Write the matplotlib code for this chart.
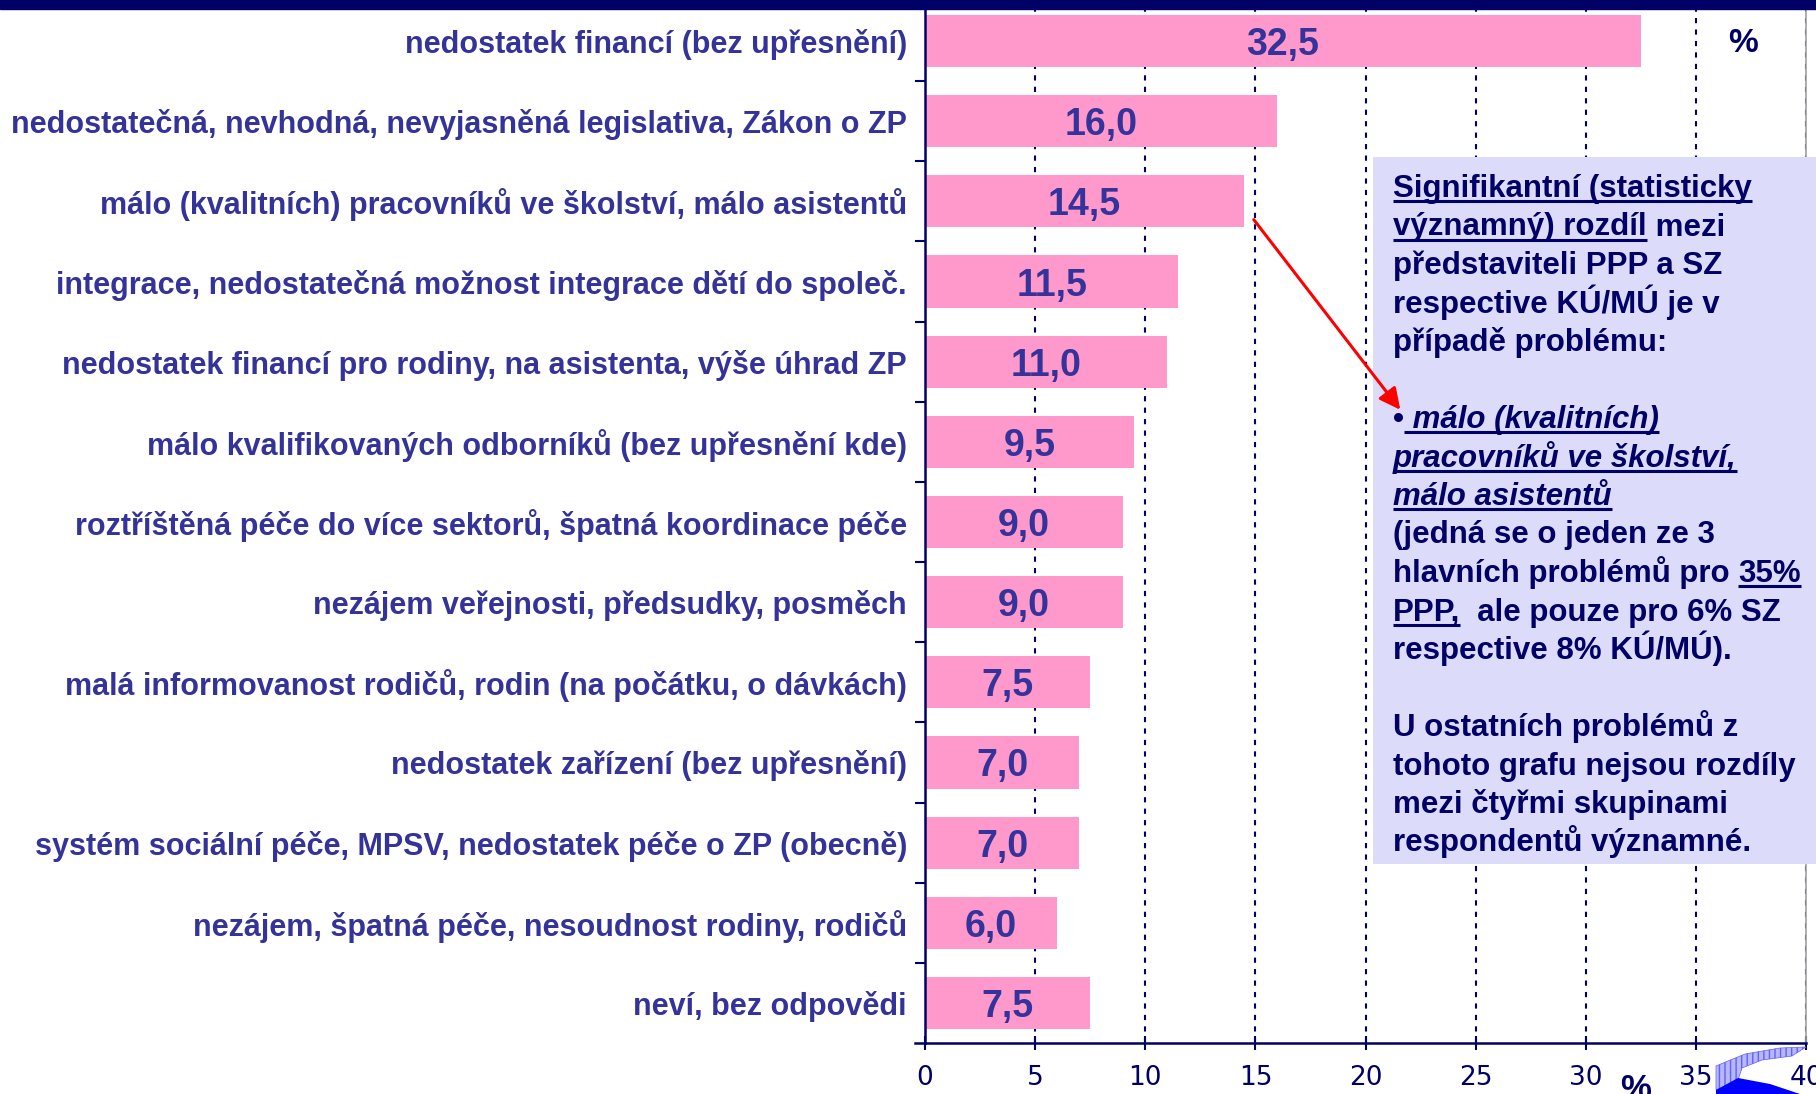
import matplotlib
matplotlib.use("Agg")
import numpy as np
import matplotlib.pyplot as plt
from matplotlib.patches import Rectangle, Polygon, FancyArrowPatch
from matplotlib.transforms import Affine2D

plt.rcParams["font.family"] = ["Liberation Sans", "DejaVu Sans"]

categories = [
    "nedostatek financí (bez upřesnění)",
    "nedostatečná, nevhodná, nevyjasněná legislativa, Zákon o ZP",
    "málo (kvalitních) pracovníků ve školství, málo asistentů",
    "integrace, nedostatečná možnost integrace dětí do společ.",
    "nedostatek financí pro rodiny, na asistenta, výše úhrad ZP",
    "málo kvalifikovaných odborníků (bez upřesnění kde)",
    "roztříštěná péče do více sektorů, špatná koordinace péče",
    "nezájem veřejnosti, předsudky, posměch",
    "malá informovanost rodičů, rodin (na počátku, o dávkách)",
    "nedostatek zařízení (bez upřesnění)",
    "systém sociální péče, MPSV, nedostatek péče o ZP (obecně)",
    "nezájem, špatná péče, nesoudnost rodiny, rodičů",
    "neví, bez odpovědi",
]
values = [32.5, 16.0, 14.5, 11.5, 11.0, 9.5, 9.0, 9.0, 7.5, 7.0, 7.0, 6.0, 7.5]
x_ticks = [0, 5, 10, 15, 20, 25, 30, 35, 40]
highlight = 2  # the category the note box points at

# note box lines: list of segments (text, italic, underlined)
note_lines = [
    [("Signifikantní (statisticky", False, True)],
    [("významný) rozdíl", False, True), (" mezi", False, False)],
    [("představiteli PPP a SZ", False, False)],
    [("respective KÚ/MÚ je v", False, False)],
    [("případě problému:", False, False)],
    [],
    [("•", False, False), (" málo (kvalitních)", True, True)],
    [("pracovníků ve školství,", True, True)],
    [("málo asistentů", True, True)],
    [("(jedná se o jeden ze 3", False, False)],
    [("hlavních problémů pro ", False, False), ("35%", False, True)],
    [("PPP,", False, True), ("  ale pouze pro 6% SZ", False, False)],
    [("respective 8% KÚ/MÚ).", False, False)],
    [],
    [("U ostatních problémů z", False, False)],
    [("tohoto grafu nejsou rozdíly", False, False)],
    [("mezi čtyřmi skupinami", False, False)],
    [("respondentů významné.", False, False)],
]

NAVY = "#000066"
LABEL = "#333399"
PINK = "#FF99CC"
BOX = "#DCDBFA"

W, H = 1816, 1094
fig = plt.figure(figsize=(W / 100, H / 100), dpi=100)
ax = fig.add_axes([925 / W, 1 - 1043 / H, 881 / W, 1042 / H])
# pixel coords measured from the top-left corner of the picture
px = Affine2D().scale(1 / W, -1 / H).translate(0, 1) + fig.transFigure

y = np.arange(len(categories))
ax.barh(y, values, height=0.65, color=PINK, zorder=2)
for i, v in enumerate(values):
    ax.text(v / 2, i, f"{v:.1f}".replace(".", ","), ha="center", va="center_baseline",
            fontsize=27, fontweight="bold", color=LABEL, zorder=3)

ax.set_xlim(0, 40)
ax.set_ylim(len(categories) - 0.5, -0.5)
ax.set_xticks(x_ticks)
ax.set_xticklabels([str(t) for t in x_ticks], family="DejaVu Sans", fontsize=19)
ax.tick_params(axis="x", direction="inout", length=10, width=1.5, color=NAVY,
               labelcolor=NAVY, pad=11)
ax.set_yticks(np.arange(0.5, len(categories) - 1, 1))
ax.set_yticklabels([])
ax.set_yticks(y, minor=True)
ax.set_yticklabels(categories, minor=True, fontsize=22, fontweight="bold", color=LABEL)
ax.tick_params(axis="y", which="major", direction="out", length=7, width=1.5, color=NAVY)
ax.tick_params(axis="y", which="minor", length=0, pad=13)

ax.set_axisbelow(True)
ax.grid(axis="x", color=NAVY, linestyle=(0, (2.5, 3)), linewidth=1.5)
ax.spines["top"].set_visible(False)
ax.spines["right"].set_color("#A0A0A0")
ax.spines["right"].set_linewidth(1.2)
for s in ("left", "bottom"):
    ax.spines[s].set_color(NAVY)
    ax.spines[s].set_linewidth(1.8)
ax.plot([-0.45, 0], [len(categories) - 0.5] * 2, color=NAVY, lw=1.8, clip_on=False)

# navy band at the top
ax.add_patch(Rectangle((0, 0), W, 9, transform=px, color=NAVY, clip_on=False, zorder=10))
ax.text(1743, 43, "%", transform=px, ha="center", va="center", fontsize=24,
        fontweight="bold", color=NAVY, clip_on=False)
ax.text(1636, 1073, "%", transform=px, ha="center", va="top", fontsize=25,
        fontweight="bold", color=NAVY, clip_on=False)

# note box
ax.add_patch(Rectangle((1373, 157), W - 1373, 864 - 157, transform=px,
                       facecolor=BOX, edgecolor="none", clip_on=False, zorder=5))

renderer = fig.canvas.get_renderer()


def advance(s, italic):
    # width incl. trailing spaces: measure against a bar sign
    kw = dict(fontsize=22.5, fontweight="bold", fontstyle="italic" if italic else "normal")
    a = fig.text(0, 0, s + "|", **kw)
    b = fig.text(0, 0, "|", **kw)
    w = a.get_window_extent(renderer).width - b.get_window_extent(renderer).width
    a.remove()
    b.remove()
    return w


x0, base, pitch = 1393, 197, 38.5
for k, segs in enumerate(note_lines):
    yb = base + pitch * k
    x = x0
    for text, italic, under in segs:
        ax.text(x, yb, text, transform=px, ha="left", va="baseline", fontsize=22.5,
                fontweight="bold", fontstyle="italic" if italic else "normal",
                color=NAVY, clip_on=False, zorder=6)
        w = advance(text, italic)
        if under:
            ax.plot([x, x + w], [yb + 4, yb + 4], transform=px, color=NAVY, lw=2.2,
                    solid_capstyle="butt", clip_on=False, zorder=6)
        x += w

# red arrow from the highlighted bar to the note
start = ax.transData.transform((values[highlight] + 0.35, highlight + 0.2))
end = px.transform((1402, 412))
arrow = FancyArrowPatch(start, end, transform=None, arrowstyle="-|>", mutation_scale=32,
                        color="#FF0000", lw=2.2, zorder=7, clip_on=False)
ax.add_artist(arrow)

# rough logo swoosh in the corner
ax.add_patch(Polygon([(1716, 1066), (1745, 1054), (1780, 1048), (1806, 1047), (1792, 1056),
                      (1762, 1060), (1742, 1068), (1738, 1080), (1716, 1090)],
                     transform=px, facecolor="#B8B8FF", edgecolor="#6060FF", hatch="|||",
                     lw=0.5, clip_on=False, zorder=8))
ax.add_patch(Polygon([(1716, 1090), (1738, 1078), (1770, 1084), (1800, 1094), (1716, 1094)],
                     transform=px, facecolor="#0000FF", edgecolor="none", clip_on=False, zorder=8))

fig.savefig("out.png", dpi=100)
